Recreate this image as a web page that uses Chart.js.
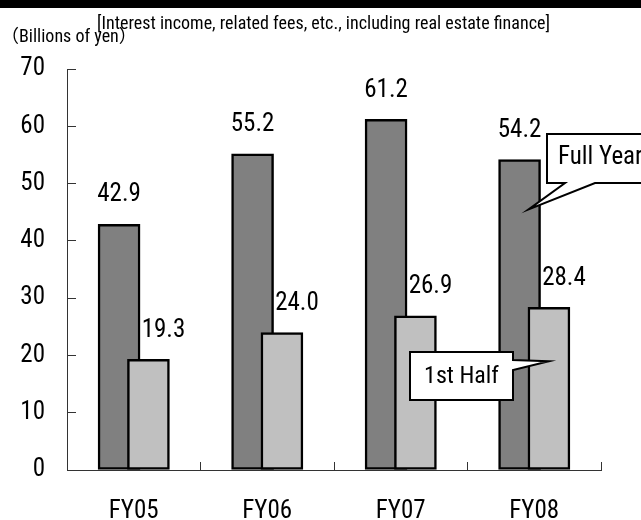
<!DOCTYPE html>
<html>
<head>
<meta charset="utf-8">
<script src="https://cdn.jsdelivr.net/npm/chart.js@4.4.0/dist/chart.umd.min.js"></script>
<style>
  html, body { margin: 0; padding: 0; background: #fff; }
  #wrap { width: 641px; height: 520px; }
</style>
</head>
<body>
<div id="wrap"><canvas id="chart" width="641" height="520"></canvas></div>
<script>
// --- datos ---
const YEARS = ['FY05', 'FY06', 'FY07', 'FY08'];
const FULL_YEAR = [42.9, 55.2, 61.2, 54.2];
const FIRST_HALF = [19.3, 24.0, 26.9, 28.4];
const Y_MIN = 0;
const Y_MAX = 70;
const Y_STEP = 10;

const TITLE = '[Interest income, related fees, etc., including real estate finance]';
const UNIT = '\uFF08Billions of yen\uFF09';
const NOTE_FULL = 'Full Year';
const NOTE_HALF = '1st Half';

const FONT = '"Roboto Condensed", "DejaVu Sans Condensed", "Noto Sans CJK JP", sans-serif';

// las barras de cada año se solapan un poco: oscuro a la izquierda, claro a la derecha
const SHIFT = 0.11;
const darkPoints = FULL_YEAR.map((v, i) => ({ x: i + 0.5 - SHIFT, y: v }));
const lightPoints = FIRST_HALF.map((v, i) => ({ x: i + 0.5 + SHIFT, y: v }));

// textos fijos, etiquetas de valor y las dos llamadas
const decorPlugin = {
  id: 'decor',
  beforeDraw(chart) {
    const c = chart.ctx;
    c.save();
    c.fillStyle = '#fff';
    c.fillRect(0, 0, chart.width, chart.height);
    c.fillStyle = '#000';
    c.fillRect(0, 0, chart.width, 8);
    c.font = '18px ' + FONT;
    c.textBaseline = 'middle';
    c.textAlign = 'left';
    c.fillText(TITLE, 97, 24);
    c.fillText(UNIT, 1, 37);
    c.restore();
  },
  afterDatasetsDraw(chart) {
    const c = chart.ctx;
    c.save();
    c.font = '25px ' + FONT;
    c.fillStyle = '#000';
    c.textAlign = 'center';
    c.textBaseline = 'middle';
    chart.data.datasets.forEach((ds, di) => {
      const meta = chart.getDatasetMeta(di);
      const dx = ds.labelShift || 0;
      meta.data.forEach((el, i) => {
        c.fillText(ds.data[i].y.toFixed(1), el.x + dx, el.y - 29);
      });
    });

    const y = chart.scales.y;
    const darkLast = chart.getDatasetMeta(0).data[3];
    const lightLast = chart.getDatasetMeta(1).data[3];

    c.lineWidth = 2;
    c.strokeStyle = '#000';
    c.fillStyle = '#fff';

    // Full Year
    let tipX = darkLast.x + 9, tipY = y.getPixelForValue(45.5);
    c.beginPath();
    c.moveTo(547, 134);
    c.lineTo(670, 134);
    c.lineTo(670, 183);
    c.lineTo(595, 183);
    c.lineTo(tipX, tipY);
    c.lineTo(565, 183);
    c.lineTo(547, 183);
    c.closePath();
    c.fill();
    c.stroke();

    // 1st Half
    tipX = lightLast.x; tipY = y.getPixelForValue(19.0);
    c.beginPath();
    c.moveTo(410, 352);
    c.lineTo(513, 352);
    c.lineTo(513, 360);
    c.lineTo(tipX, tipY);
    c.lineTo(513, 370);
    c.lineTo(513, 400);
    c.lineTo(410, 400);
    c.closePath();
    c.fill();
    c.stroke();

    c.fillStyle = '#000';
    c.font = '25px ' + FONT;
    c.textAlign = 'left';
    c.fillText(NOTE_FULL, 558, 158);
    c.font = '24px ' + FONT;
    c.textAlign = 'center';
    c.fillText(NOTE_HALF, 461.5, 377);
    c.restore();
  }
};

const ctx = document.getElementById('chart').getContext('2d');
new Chart(ctx, {
  type: 'bar',
  data: {
    labels: YEARS,
    datasets: [
      {
        label: 'Full Year',
        data: darkPoints,
        xAxisID: 'xb',
        backgroundColor: '#808080',
        borderColor: '#000',
        borderWidth: 2.5,
        borderSkipped: false,
        barThickness: 42,
        grouped: false,
        order: 1
      },
      {
        label: '1st Half',
        data: lightPoints,
        xAxisID: 'xb',
        backgroundColor: '#c0c0c0',
        borderColor: '#000',
        borderWidth: 2.5,
        borderSkipped: false,
        barThickness: 42,
        grouped: false,
        order: 0,
        labelShift: 15
      }
    ]
  },
  options: {
    responsive: false,
    animation: false,
    events: [],
    layout: { padding: { top: 69, right: 40, left: 0, bottom: 0 } },
    plugins: {
      legend: { display: false },
      tooltip: { enabled: false }
    },
    scales: {
      x: {
        type: 'category',
        offset: true,
        afterFit(s) { s.height = 50; },
        grid: { offset: true, drawOnChartArea: false, tickLength: -8, color: '#333' },
        border: { color: '#333', width: 1 },
        ticks: { padding: 35, color: '#000', font: { family: FONT, size: 25 } }
      },
      xb: {
        type: 'linear',
        display: false,
        offset: false,
        min: 0,
        max: YEARS.length
      },
      y: {
        min: Y_MIN,
        max: Y_MAX,
        afterFit(s) { s.width = 67; },
        grid: { drawOnChartArea: false, tickLength: -9, color: '#333' },
        border: { color: '#333', width: 1 },
        ticks: { stepSize: Y_STEP, padding: 31, color: '#000', font: { family: FONT, size: 25 } }
      }
    }
  },
  plugins: [decorPlugin]
});
</script>
</body>
</html>
